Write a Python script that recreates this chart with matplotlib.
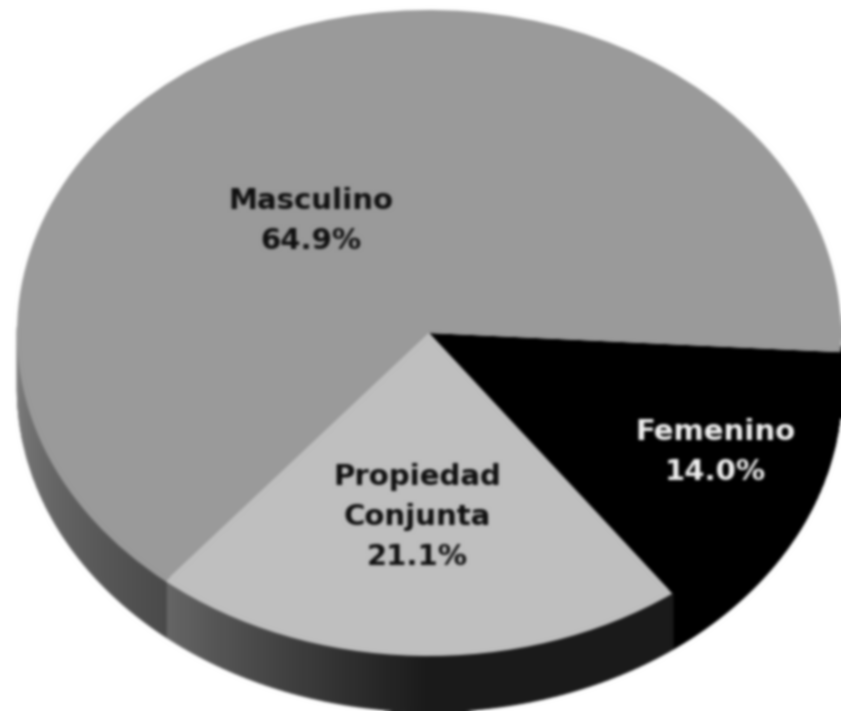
"""3D style ownership pie, Masculino / Propiedad Conjunta / Femenino."""
import matplotlib
matplotlib.use("Agg")
import matplotlib.pyplot as plt
from matplotlib.patches import Rectangle
import numpy as np

categories = ["Femenino", "Propiedad\nConjunta", "Masculino"]
values = [14.0, 21.1, 64.9]
colors = ["#000000", "#bfbfbf", "#9a9a9a"]
text_colors = ["#f0f0f0", "#101010", "#101010"]

W, H = 841, 711
CX, CY, RX, RY = 429, 333, 412, 323
DEPTH = 55 / RY
START = 3.4  # degrees clockwise from east


def side_color(cat, frac):
    # frac runs clockwise along the wall, so 1 is the left end of the slice
    if cat == 0:
        return 0.0
    if cat == 1:
        return 0.10 if frac < .476 else 0.10 + 0.30 * (frac - .476) / .524
    return 0.29 + 0.21 * frac


def soften(img, dpi):
    # the reference is an enlarged scan, so everything is a little blurred
    pad = 6
    out = np.pad(img, ((pad, pad), (pad, pad), (0, 0)), mode="edge")
    for _ in range(2):
        for axis in (0, 1):
            out = sum(w * np.roll(out, s, axis=axis)
                      for s, w in zip([-2, -1, 0, 1, 2], [.0625, .25, .375, .25, .0625]))
    return out[pad:-pad, pad:-pad], 0, 0


fig = plt.figure(figsize=(W / 100, H / 100), dpi=100)
ax = fig.add_axes([0, 0, 1, 1])

# side wall, cut in thin vertical strips
edges = START + np.cumsum([0] + values) * 3.6
for i in range(3):
    a0, a1 = edges[i], min(edges[i + 1], 180)
    th = np.radians(np.linspace(a0, a1, 80))
    for k in range(len(th) - 1):
        t = np.linspace(th[k], th[k + 1], 4)
        x = np.cos(t)
        y = -np.sin(t)
        g = side_color(i, (k + .5) / (len(th) - 1))
        # top edge runs a bit under the pie so no seam shows
        ax.fill_between(x, y + .02, y - DEPTH, color=str(g), linewidth=1, zorder=1)

ax.pie(values, colors=colors, startangle=-START, counterclock=False,
       wedgeprops={"linewidth": 0, "zorder": 2})
ax.set_aspect("auto")
ax.set_xlim(-CX / RX, (W - CX) / RX)
ax.set_ylim((CY - H) / RY, CY / RY)
ax.axis("off")
ax.add_patch(Rectangle((0, 0), 1, 1, transform=ax.transAxes, color="white", zorder=0))

label_pos = [(715, 452), (417, 517), (311, 221)]
for cat, v, c, (px, py) in zip(categories, values, text_colors, label_pos):
    ax.text(px / W, 1 - py / H, f"{cat}\n{v:.1f}%", color=c, fontsize=21,
            fontweight="bold", ha="center", va="center", linespacing=1.55,
            family="DejaVu Sans", zorder=5, transform=fig.transFigure)

ax.set_agg_filter(soften)
fig.savefig("out.png", dpi=100)
